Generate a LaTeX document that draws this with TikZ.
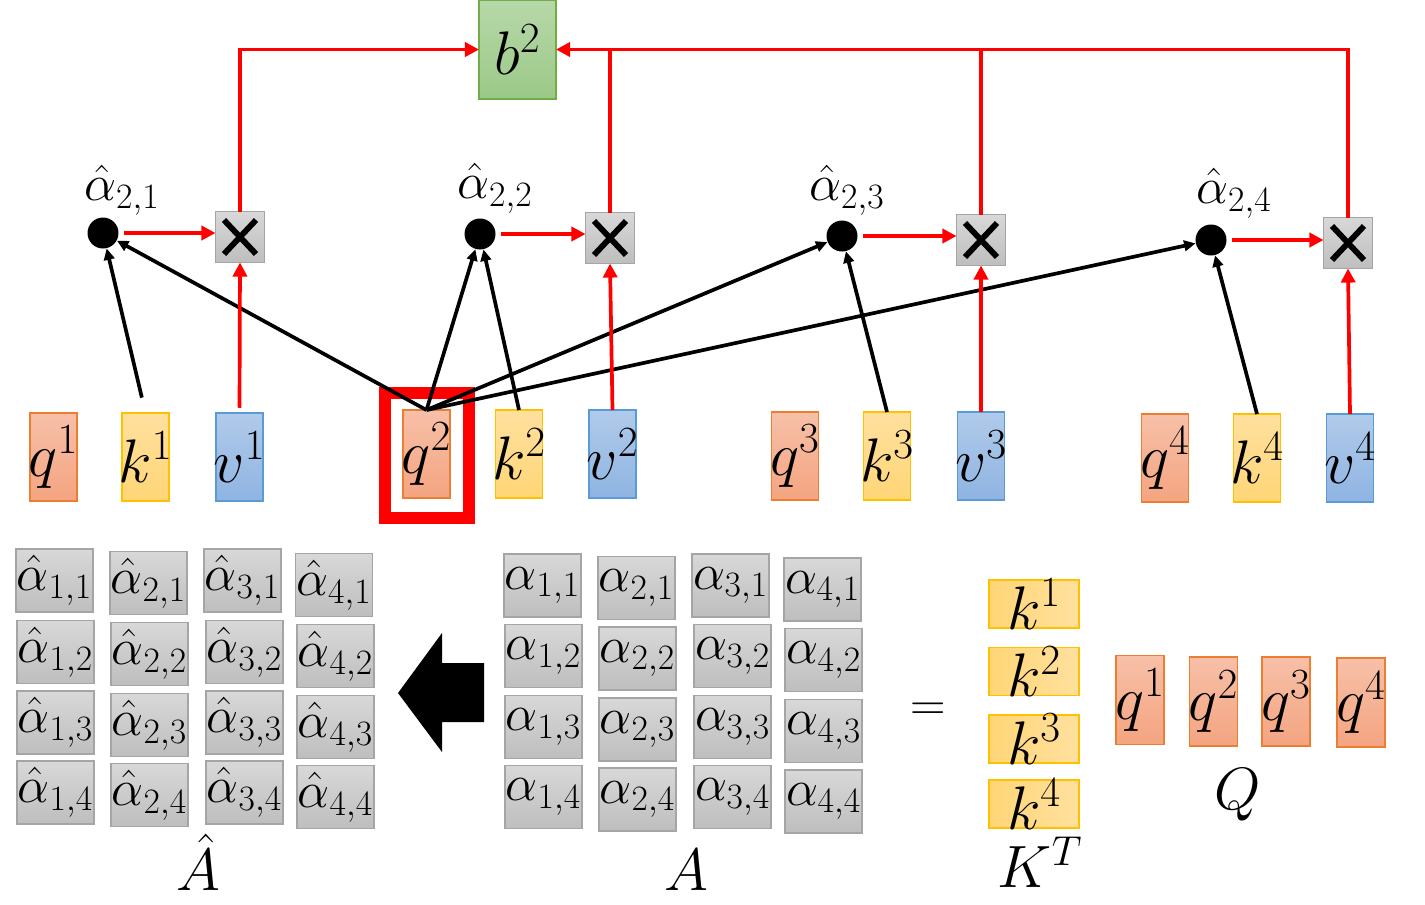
\documentclass[tikz,border=0pt]{standalone}
\usepackage{fix-cm}
\usepackage{amsmath}
\usetikzlibrary{arrows.meta}

\definecolor{qTop}{RGB}{247,192,168}
\definecolor{qBot}{RGB}{244,164,128}
\definecolor{qLine}{RGB}{237,125,49}
\definecolor{kTop}{RGB}{255,224,158}
\definecolor{kBot}{RGB}{255,213,118}
\definecolor{kLine}{RGB}{255,192,0}
\definecolor{vTop}{RGB}{176,202,234}
\definecolor{vBot}{RGB}{143,180,226}
\definecolor{vLine}{RGB}{91,155,213}
\definecolor{gTop}{RGB}{216,216,216}
\definecolor{gBot}{RGB}{190,190,190}
\definecolor{gLine}{RGB}{165,165,165}
\definecolor{bTop}{RGB}{183,216,169}
\definecolor{bBot}{RGB}{155,201,136}
\definecolor{bLine}{RGB}{112,173,71}
\definecolor{hlred}{RGB}{255,0,0}

\tikzset{
  box/.style={draw, inner sep=0pt, outer sep=0pt, line width=0.8pt},
  vecbox/.style={box, minimum width=0.94cm, minimum height=1.76cm},
  qbox/.style={vecbox, draw=qLine, top color=qTop, bottom color=qBot},
  kbox/.style={vecbox, draw=kLine, top color=kTop, bottom color=kBot},
  vbox/.style={vecbox, draw=vLine, top color=vTop, bottom color=vBot},
  bigq/.style={qbox, minimum width=0.96cm, minimum height=1.78cm},
  ktbox/.style={box, draw=kLine, left color=kBot, right color=kTop, minimum width=1.8cm, minimum height=0.96cm},
  cell/.style={box, draw=gLine, top color=gTop, bottom color=gBot, minimum width=1.54cm, minimum height=1.26cm},
  bbox/.style={box, draw=bLine, top color=bTop, bottom color=bBot, minimum width=1.54cm, minimum height=1.98cm},
  mulbox/.style={box, draw=gLine, top color=gTop, bottom color=gBot, minimum width=0.98cm, minimum height=1.02cm,
    path picture={
      \draw[black, line width=3.3pt] ([shift={(-0.32cm,0.34cm)}]path picture bounding box.center) -- ([shift={(0.32cm,-0.34cm)}]path picture bounding box.center);
      \draw[black, line width=3.3pt] ([shift={(-0.32cm,-0.34cm)}]path picture bounding box.center) -- ([shift={(0.32cm,0.34cm)}]path picture bounding box.center);
    }},
  hlbox/.style={draw=hlred, line width=6.8pt, inner sep=0pt, minimum width=1.68cm, minimum height=2.5cm},
  dotnode/.style={circle, fill=black, inner sep=0pt, minimum size=0.62cm},
  vlbl/.style={font=\fontsize{35}{40}\selectfont, inner sep=0pt},
  albl/.style={font=\fontsize{29}{34}\selectfont, inner sep=0pt},
  biglbl/.style={font=\fontsize{34}{40}\selectfont, inner sep=0pt},
  redarr/.style={draw=hlred, line width=2.1pt, -{Triangle[length=8pt,width=8pt]}},
  redline/.style={draw=hlred, line width=2.1pt},
  blkarr/.style={draw=black, line width=2.1pt, -{Triangle[length=6.5pt,width=6pt]}},
}

\begin{document}
\begin{tikzpicture}[x=0.02cm, y=-0.02cm]
\useasboundingbox (0,0) rectangle (1425,904);

% ---------- top part ----------
\node[bbox, label={[vlbl]center:$b^2$}] (b2) at (517.5,49.5) {};

\node[dotnode] (d1) at (103,233) {};
\node[dotnode] (d2) at (480,234) {};
\node[dotnode] (d3) at (842,236) {};
\node[dotnode] (d4) at (1211,240) {};

\node[albl] (a1) at (122,190) {$\hat{\alpha}_{2,1}$};
\node[albl] (a2) at (495,188) {$\hat{\alpha}_{2,2}$};
\node[albl] (a3) at (847,190) {$\hat{\alpha}_{2,3}$};
\node[albl] (a4) at (1234,193) {$\hat{\alpha}_{2,4}$};

\node[mulbox] (m1) at (240,237) {};
\node[mulbox] (m2) at (610,238) {};
\node[mulbox] (m3) at (981,240) {};
\node[mulbox] (m4) at (1348,243) {};

\node[qbox, label={[vlbl]center:$q^1$}] (q1) at (53.5,457) {};
\node[kbox, label={[vlbl]center:$k^1$}] (k1) at (145.5,457) {};
\node[vbox, label={[vlbl]center:$v^1$}] (v1) at (239.5,457) {};
\node[hlbox] (hl) at (427,455.5) {};
\node[qbox, label={[vlbl]center:$q^2$}] (q2) at (426.5,454) {};
\node[kbox, label={[vlbl]center:$k^2$}] (k2) at (519,454) {};
\node[vbox, label={[vlbl]center:$v^2$}] (v2) at (612.5,454) {};
\node[qbox, label={[vlbl]center:$q^3$}] (q3) at (795,456) {};
\node[kbox, label={[vlbl]center:$k^3$}] (k3) at (887,456) {};
\node[vbox, label={[vlbl]center:$v^3$}] (v3) at (981,456) {};
\node[qbox, label={[vlbl]center:$q^4$}] (q4) at (1165,458) {};
\node[kbox, label={[vlbl]center:$k^4$}] (k4) at (1257,458) {};
\node[vbox, label={[vlbl]center:$v^4$}] (v4) at (1350,458) {};

% black arrows
\draw[blkarr, shorten <=9pt] (k1.north) -- (d1);
\draw[blkarr] (q2.north) -- (d1);
\draw[blkarr] (q2.north) -- (d2);
\draw[blkarr] (q2.north) -- (d3);
\draw[blkarr] (q2.north) -- (d4);
\draw[blkarr] (k2.north) -- (d2);
\draw[blkarr] (k3.north) -- (d3);
\draw[blkarr] (k4.north) -- (d4);

% red arrows
\draw[redarr, shorten <=3pt] (v1.north) -- (m1.south);
\draw[redarr] (v2.north) -- (m2.south);
\draw[redarr] (v3.north) -- (m3.south);
\draw[redarr] (v4.north) -- (m4.south);
\draw[redarr, shorten <=3pt] (d1.east) -- (m1.west |- d1.east);
\draw[redarr, shorten <=3pt] (d2.east) -- (m2.west |- d2.east);
\draw[redarr, shorten <=3pt] (d3.east) -- (m3.west |- d3.east);
\draw[redarr, shorten <=3pt] (d4.east) -- (m4.west |- d4.east);

\draw[redarr] (m1.north) |- (b2.west);
\draw[redarr] (m4.north) |- (b2.east);
\draw[redline] (m2.north) -- (m2.north |- b2.east);
\draw[redline] (m3.north) -- (m3.north |- b2.east);

% ---------- bottom part ----------
\foreach \c/\r/\x/\y in {
  1/1/54.5/580.5, 2/1/148.5/583, 3/1/242.5/580.5, 4/1/334/585,
  1/2/55.5/652,   2/2/149.5/654, 3/2/244.5/652,   4/2/335.5/656,
  1/3/55.5/722.5, 2/3/149.5/725, 3/3/244.5/722.5, 4/3/335.5/727,
  1/4/55.5/792.5, 2/4/149.5/795, 3/4/244.5/792.5, 4/4/335.5/797}
  \node[cell, label={[albl]center:$\hat{\alpha}_{\c,\r}$}] (ah\c\r) at (\x,\y) {};

\foreach \c/\r/\x/\y in {
  1/1/542.5/585.5, 2/1/636.5/588,   3/1/730.5/585.5, 4/1/822.5/589.5,
  1/2/543.5/656,   2/2/637.5/658.5, 3/2/732.5/656,   4/2/823.5/660,
  1/3/543.5/727,   2/3/637.5/729.5, 3/3/732.5/727,   4/3/823.5/731,
  1/4/543.5/797,   2/4/637.5/799.5, 3/4/732.5/797,   4/4/823.5/801.5}
  \node[cell, label={[albl]center:$\alpha_{\c,\r}$}] (a\c\r) at (\x,\y) {};

\node[biglbl] (lAh) at (198,862) {$\hat{A}$};
\node[biglbl] (lA) at (686,870) {$A$};
\node[biglbl] (lKT) at (1040,862) {$K^T$};
\node[biglbl] (lQ) at (1238,795) {$Q$};
\node[font=\fontsize{28}{32}\selectfont, inner sep=0pt] (eq) at (928,712) {$=$};

% big arrow
\fill[black] (398,693) -- (442,633) -- (442,663) -- (484,663) -- (484,722) -- (442,722) -- (442,752) -- cycle;

\node[ktbox, label={[vlbl]center:$k^1$}] (kt1) at (1034,604) {};
\node[ktbox, label={[vlbl]center:$k^2$}] (kt2) at (1034,671.5) {};
\node[ktbox, label={[vlbl]center:$k^3$}] (kt3) at (1034,739) {};
\node[ktbox, label={[vlbl]center:$k^4$}] (kt4) at (1034,804) {};

\node[bigq, label={[vlbl]center:$q^1$}] (Q1) at (1140,700) {};
\node[bigq, label={[vlbl]center:$q^2$}] (Q2) at (1213.5,701.5) {};
\node[bigq, label={[vlbl]center:$q^3$}] (Q3) at (1286,701.5) {};
\node[bigq, label={[vlbl]center:$q^4$}] (Q4) at (1361,702.5) {};
\end{tikzpicture}
\end{document}
